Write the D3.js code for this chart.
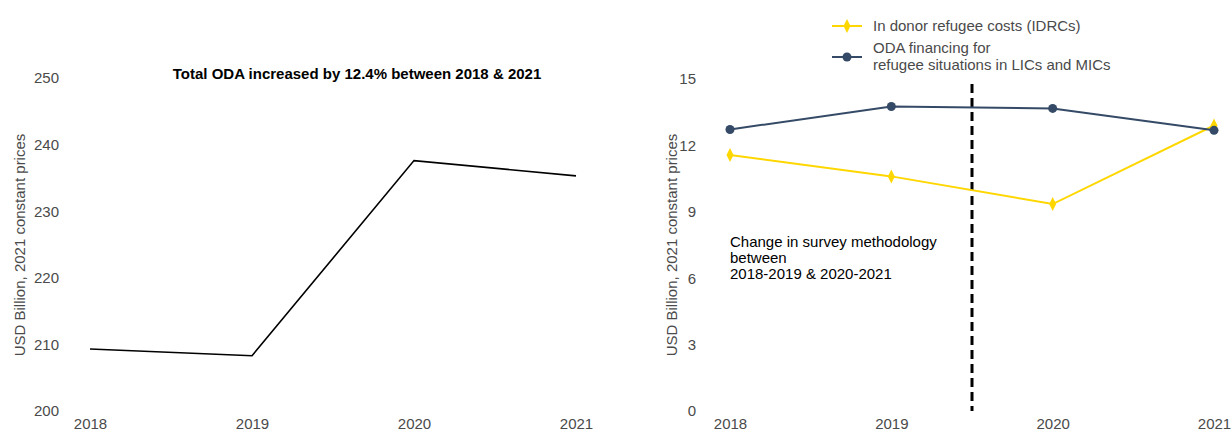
<!DOCTYPE html>
<html lang="en">
<head>
    <meta charset="UTF-8">
    <title>ODA and refugee financing</title>
    <style>
        body {
            margin: 0;
            font-family: "Liberation Sans", Arial, sans-serif;
            background: #fff;
        }
        .tick text {
            fill: #4a4a4a;
            font-size: 15px;
        }
        .axis-title {
            fill: #4a4a4a;
            font-size: 15px;
        }
    </style>
</head>
<body>
    <svg width="1232" height="431"></svg>
    <script src="https://d3js.org/d3.v7.min.js"></script>
    <script>
        const years = [2018, 2019, 2020, 2021];
        const totalOda = [209.3, 208.3, 237.6, 235.3];
        const idrcs = [11.57, 10.6, 9.35, 12.9];
        const refugeeLicMic = [12.72, 13.76, 13.67, 12.68];
        const leftTicks = [200, 210, 220, 230, 240, 250];
        const rightTicks = [0, 3, 6, 9, 12, 15];
        const methodChangeYear = 2019.5;

        const svg = d3.select("svg");
        const yLabel = "USD Billion, 2021 constant prices";

        // left panel: total ODA
        const xL = d3.scalePoint().domain(years).range([90, 576]);
        const yL = d3.scaleLinear().domain([200, 250]).range([411, 78]);

        svg.append("g")
            .attr("transform", "translate(0,424)")
            .call(d3.axisBottom(xL).tickSize(0).tickPadding(0))
            .call(g => g.select(".domain").remove())
            .selectAll("text").attr("dy", "0.35em");

        svg.append("g")
            .attr("transform", "translate(59,0)")
            .call(d3.axisLeft(yL).tickValues(leftTicks).tickSize(0).tickPadding(0))
            .call(g => g.select(".domain").remove());

        svg.append("text")
            .attr("class", "axis-title")
            .attr("transform", "translate(25,245) rotate(-90)")
            .attr("text-anchor", "middle")
            .text(yLabel);

        svg.append("text")
            .attr("x", 357)
            .attr("y", 79)
            .attr("text-anchor", "middle")
            .style("font-size", "15px")
            .style("font-weight", "bold")
            .style("fill", "#000")
            .text("Total ODA increased by 12.4% between 2018 & 2021");

        const lineL = d3.line()
            .x((d, i) => xL(years[i]))
            .y(d => yL(d));

        svg.append("path")
            .datum(totalOda)
            .attr("d", lineL)
            .attr("fill", "none")
            .attr("stroke", "#000")
            .attr("stroke-width", 1.6);

        // right panel: refugee financing
        const xR = d3.scaleLinear().domain([2018, 2021]).range([730, 1214]);
        const yR = d3.scaleLinear().domain([0, 15]).range([411, 79]);

        svg.append("g")
            .attr("transform", "translate(0,424)")
            .call(d3.axisBottom(xR).tickValues(years).tickFormat(d3.format("d")).tickSize(0).tickPadding(0))
            .call(g => g.select(".domain").remove())
            .selectAll("text").attr("dy", "0.35em");

        svg.append("g")
            .attr("transform", "translate(696,0)")
            .call(d3.axisLeft(yR).tickValues(rightTicks).tickSize(0).tickPadding(0))
            .call(g => g.select(".domain").remove());

        svg.append("text")
            .attr("class", "axis-title")
            .attr("transform", "translate(677,245) rotate(-90)")
            .attr("text-anchor", "middle")
            .text(yLabel);

        svg.append("line")
            .attr("x1", xR(methodChangeYear))
            .attr("x2", xR(methodChangeYear))
            .attr("y1", 84)
            .attr("y2", yR(0))
            .attr("stroke", "#000")
            .attr("stroke-width", 3)
            .attr("stroke-dasharray", "9,5");

        const note = svg.append("text")
            .attr("x", 730)
            .attr("y", 247)
            .style("font-size", "15px")
            .style("fill", "#000");
        ["Change in survey methodology", "between", "2018-2019 & 2020-2021"].forEach((t, i) => {
            note.append("tspan").attr("x", 730).attr("dy", i ? 16 : 0).text(t);
        });

        const lineR = d3.line()
            .x((d, i) => xR(years[i]))
            .y(d => yR(d));

        const yellow = "#ffd700";
        const navy = "#344a66";

        svg.append("path")
            .datum(idrcs)
            .attr("d", lineR)
            .attr("fill", "none")
            .attr("stroke", yellow)
            .attr("stroke-width", 2);

        svg.append("path")
            .datum(refugeeLicMic)
            .attr("d", lineR)
            .attr("fill", "none")
            .attr("stroke", navy)
            .attr("stroke-width", 2);

        const diamond = "M0,-7L3.5,0L0,7L-3.5,0Z";

        svg.selectAll(".idrc-pt")
            .data(idrcs)
            .join("path")
            .attr("class", "idrc-pt")
            .attr("d", diamond)
            .attr("transform", (d, i) => `translate(${xR(years[i])},${yR(d)})`)
            .attr("fill", yellow);

        svg.selectAll(".ref-pt")
            .data(refugeeLicMic)
            .join("circle")
            .attr("class", "ref-pt")
            .attr("cx", (d, i) => xR(years[i]))
            .attr("cy", d => yR(d))
            .attr("r", 4.5)
            .attr("fill", navy);

        // legend
        const legend = svg.append("g").style("font-size", "15px").style("fill", "#4a4a4a");
        legend.append("line").attr("x1", 832).attr("x2", 862).attr("y1", 26).attr("y2", 26)
            .attr("stroke", yellow).attr("stroke-width", 2);
        legend.append("path").attr("d", diamond).attr("transform", "translate(847,26)").attr("fill", yellow);
        legend.append("text").attr("x", 873).attr("y", 31).text("In donor refugee costs (IDRCs)");

        legend.append("line").attr("x1", 832).attr("x2", 862).attr("y1", 57).attr("y2", 57)
            .attr("stroke", navy).attr("stroke-width", 2);
        legend.append("circle").attr("cx", 847).attr("cy", 57).attr("r", 4.5).attr("fill", navy);
        const lt = legend.append("text").attr("x", 873).attr("y", 53);
        lt.append("tspan").attr("x", 873).text("ODA financing for");
        lt.append("tspan").attr("x", 873).attr("dy", 17).text("refugee situations in LICs and MICs");
    </script>
</body>
</html>
